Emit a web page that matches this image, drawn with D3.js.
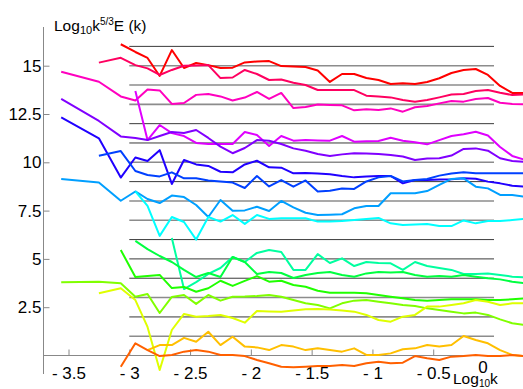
<!DOCTYPE html>
<html>
<head>
<meta charset="utf-8">
<script src="https://cdn.jsdelivr.net/npm/d3@7/dist/d3.min.js"></script>
<style>
  body { margin: 0; background: #fff; }
  text { font-family: "Liberation Sans", Arial, sans-serif; fill: #000; }
</style>
</head>
<body>
<svg id="chart" width="523" height="389"></svg>
<script>
// log10 k of the sample points (three coarse bins, then 0.1 steps)
var logK = [-3.56, -3.25, -3.07,
  -2.95, -2.85, -2.75, -2.65, -2.55, -2.45, -2.35, -2.25, -2.15, -2.05,
  -1.95, -1.85, -1.75, -1.65, -1.55, -1.45, -1.35, -1.25, -1.15, -1.05,
  -0.95, -0.85, -0.75, -0.65, -0.55, -0.45, -0.35, -0.25, -0.15, -0.05,
  0.05, 0.15, 0.25];

// compensated spectra, each one shifted by an integer (top to bottom)
var red = [null, null, 16.11, 15.71, 15.40, 14.47, 15.81, 14.88, 15.14, 15.03, 14.88, 14.90, 15.17, 15.22, 15.24, 14.98, 14.96, 14.93, 14.75, 14.16, 14.57, 14.57, 14.36, 14.26, 14.05, 14.09, 14.05, 14.16, 14.35, 14.62, 14.78, 14.83, 14.52, 13.95, 13.59, 13.59];
var rose = [null, 15.16, 15.41, 15.03, 14.86, 14.52, 14.78, 15.00, 15.01, 15.03, 14.36, 14.39, 14.78, 14.57, 14.26, 14.29, 14.12, 14.00, 13.74, 13.74, 13.74, 13.74, 13.45, 13.40, 13.36, 13.22, 13.14, 13.22, 13.36, 13.51, 13.54, 13.69, 13.74, 13.60, 13.48, 13.52];
var magenta = [14.69, 14.17, 13.41, 13.20, 13.77, 13.72, 13.02, 13.07, 13.49, 13.54, 13.41, 13.20, 13.35, 13.64, 13.28, 13.59, 12.81, 12.86, 12.99, 12.97, 12.95, 12.69, 12.74, 12.71, 12.79, 12.62, 12.85, 12.91, 13.05, 13.17, 13.14, 13.28, 13.33, 13.08, 13.02, 13.00];
var violet = [null, null, null, 13.69, 11.15, 11.93, 11.51, 11.36, 11.00, 10.95, 10.95, 10.95, 11.57, 11.41, 10.84, 11.36, 11.12, 11.15, 11.13, 11.12, 11.36, 11.07, 11.09, 11.10, 11.27, 11.12, 11.04, 10.93, 11.15, 11.36, 11.45, 11.58, 11.39, 10.79, 10.33, 10.14];
var purple = [13.28, 12.14, 11.34, 11.26, 11.15, 11.36, 11.57, 11.52, 11.67, 11.26, 10.81, 10.47, 10.74, 11.15, 11.12, 10.95, 10.72, 10.60, 10.43, 10.33, 10.41, 10.47, 10.46, 10.43, 10.38, 10.30, 10.12, 10.20, 10.21, 10.35, 10.69, 10.72, 10.60, 10.21, 10.07, 10.03];
var indigo = [12.33, 11.24, 9.21, 10.25, 10.07, 10.63, 8.88, 10.12, 9.89, 9.81, 9.51, 9.48, 9.89, 10.08, 9.74, 9.72, 9.43, 9.45, 9.42, 9.38, 9.29, 9.22, 9.27, 9.29, 9.29, 8.91, 9.08, 9.08, 9.11, 9.12, 9.17, 9.15, 9.00, 8.91, 8.79, 8.74];
var blue = [null, 10.34, 10.58, 9.55, 9.34, 9.27, 9.48, 9.17, 9.17, 9.06, 9.01, 8.95, 8.67, 9.29, 8.75, 9.08, 8.74, 9.06, 8.49, 8.53, 8.64, 8.62, 9.01, 9.22, 9.29, 9.01, 9.08, 9.14, 9.31, 9.42, 9.48, 9.43, 9.43, 9.43, 9.43, 9.43];
var azure = [9.14, 8.96, 8.01, 8.49, 8.10, 7.89, 8.28, 8.20, 7.79, 7.17, 8.05, 7.49, 7.51, 7.70, 7.48, 8.00, 7.67, 7.39, 7.27, 7.29, 7.31, 7.62, 7.74, 7.74, 8.40, 8.40, 8.40, 8.51, 8.83, 9.14, 9.17, 8.74, 8.65, 8.31, 8.31, 8.22];
var cyan = [null, null, null, 8.49, 7.74, 6.19, 7.17, 6.91, 6.00, 7.17, 6.93, 7.27, 6.81, 7.27, 7.07, 7.10, 7.10, 7.10, 6.93, 6.93, 6.96, 7.01, 7.07, 7.12, 6.84, 6.75, 6.78, 6.81, 6.70, 6.70, 6.99, 6.84, 6.96, 6.96, 7.01, 7.07];
var teal = [null, null, null, null, null, null, 6.08, 3.44, 3.80, 4.22, 4.53, 5.10, 4.84, 5.31, 5.46, 5.36, 4.43, 4.43, 5.25, 4.79, 5.03, 4.63, 4.84, 4.79, 4.77, 4.43, 4.84, 4.63, 4.53, 4.43, 4.22, 4.22, 4.25, 4.17, 4.08, 4.05];
var green = [null, null, null, 5.93, 5.51, 5.15, 4.84, 4.43, 4.06, 4.27, 4.06, 5.10, 4.84, 4.22, 4.32, 4.27, 4.01, 4.17, 4.27, 4.32, 4.17, 4.08, 4.25, 4.32, 4.29, 4.32, 4.17, 4.08, 4.11, 4.08, 4.17, 4.08, 4.00, 3.94, 3.82, 3.74];
var grass = [null, null, 5.46, 4.06, 4.11, 4.17, 3.49, 3.55, 3.30, 3.48, 3.87, 3.60, 3.86, 4.11, 3.82, 3.87, 3.65, 3.56, 3.35, 3.25, 3.25, 3.25, 3.22, 3.13, 3.04, 2.96, 2.87, 2.84, 2.87, 2.91, 2.91, 2.91, 2.87, 2.87, 2.91, 2.96];
var lime = [3.79, 3.82, 3.74, 3.04, 3.18, 2.20, 3.03, 3.13, 2.67, 3.13, 2.84, 3.04, 3.05, 3.08, 3.13, 3.04, 2.87, 2.70, 2.61, 2.44, 2.70, 2.84, 2.87, 2.78, 2.70, 2.61, 2.56, 2.44, 2.36, 2.27, 2.18, 2.22, 2.10, 1.87, 1.67, 1.58];
var yellow = [null, 3.22, 3.48, 2.87, 1.48, -0.75, 1.32, 2.15, 2.01, 2.04, 2.10, 1.94, 1.70, 2.30, 2.28, 2.27, 2.33, 2.39, 2.41, 2.38, 2.33, 2.27, 2.10, 1.84, 1.75, 2.01, 2.10, 2.53, 2.53, 2.61, 2.70, 2.87, 2.78, 2.61, 2.70, 2.70];
var amber = [null, null, null, null, 0.28, 0.54, 0.54, 0.91, 0.71, 1.23, 0.54, 0.97, 0.46, 0.42, 0.28, 0.54, 0.46, 0.28, 0.37, 0.28, 0.20, 0.37, 0.03, 0.03, 0.11, 0.32, 0.37, 0.54, 0.46, 0.54, 1.01, 0.80, 0.63, 0.28, 0.03, -0.03];
var orange = [null, null, -0.58, 0.63, 0.28, -0.03, 0.03, 0.20, 0.28, 0.20, 0.03, 0.03, -0.03, -0.23, -0.40, -0.58, -0.61, -0.58, -0.54, -0.54, -0.49, -0.54, -0.40, -0.32, -0.40, -0.37, -0.03, -0.14, -0.23, -0.06, -0.03, 0.03, -0.03, -0.03, 0.03, -0.03];

var curves = [red, rose, magenta, violet, purple, indigo, blue, azure, cyan, teal, green, grass, lime, yellow, amber, orange];

// horizontal reference levels, drawn from log k = -3 to 0
var refLevels = [16, 15, 14, 13, 12, 11, 10, 9, 8, 7, 6, 5, 4, 3, 2, 1];
var refFrom = -3, refTo = 0;

var xTicks = [-3.5, -3, -2.5, -2, -1.5, -1, -0.5];
var yTicks = [2.5, 5, 7.5, 10, 12.5, 15];

var svg = d3.select("#chart");

var x = d3.scaleLinear().domain([-3.5, 0]).range([68.5, 494]);
var y = d3.scaleLinear().domain([0, 15]).range([355.5, 65.7]);

// the lighter reference lines
var lightLevels = [15, 14, 13, 10, 8, 7, 3, 2, 1];

svg.append("g").selectAll("line")
  .data(refLevels)
  .enter().append("line")
  .attr("x1", x(refFrom))
  .attr("x2", x(refTo))
  .attr("y1", function(d) { return y(d); })
  .attr("y2", function(d) { return y(d); })
  .attr("stroke", function(d) { return lightLevels.indexOf(d) >= 0 ? "#8c8c8c" : "#3a3a3a"; })
  .attr("stroke-width", function(d) { return lightLevels.indexOf(d) >= 0 ? 1.6 : 1; });

// axes, Mathematica style: ticks point into the plot
var minorX = d3.range(-36, 3).map(function(i) { return i / 10; });
var minorY = d3.range(-1, 35).map(function(i) { return i / 2; });

var gx = svg.append("g").attr("transform", "translate(0," + y(0) + ")");
gx.call(d3.axisBottom(x).tickValues(minorX).tickSizeInner(-3).tickSizeOuter(0).tickFormat(""));
gx.call(d3.axisBottom(x).tickValues(xTicks).tickSizeInner(-6).tickSizeOuter(0).tickPadding(11)
  .tickFormat(function(d) { return "- " + Math.abs(d); }));
gx.selectAll(".domain").remove();
gx.selectAll("line").attr("stroke", "#888");
gx.selectAll("text").attr("font-size", 17).attr("font-family", "Liberation Sans, Arial, sans-serif");

var gy = svg.append("g").attr("transform", "translate(43.5,0)");
gy.call(d3.axisLeft(y).tickValues(minorY).tickSizeInner(-3).tickSizeOuter(0).tickFormat(""));
gy.call(d3.axisLeft(y).tickValues(yTicks).tickSizeInner(-6).tickSizeOuter(0).tickPadding(2)
  .tickFormat(function(d) { return String(d); }));
gy.selectAll(".domain").remove();
gy.selectAll("line").attr("stroke", "#888");
gy.selectAll("text").attr("font-size", 17).attr("font-family", "Liberation Sans, Arial, sans-serif");

svg.append("line").attr("x1", 43.5).attr("x2", 523).attr("y1", y(0)).attr("y2", y(0))
  .attr("stroke", "#888");
svg.append("line").attr("x1", 43.5).attr("x2", 43.5).attr("y1", 27).attr("y2", 374)
  .attr("stroke", "#888");

// origin label sits left of the tick
svg.append("text").attr("x", x(0) - 11).attr("y", 373).attr("font-size", 17)
  .attr("text-anchor", "middle").text("0");

// spectra
var line = d3.line()
  .defined(function(d) { return d[1] !== null; })
  .x(function(d) { return x(d[0]); })
  .y(function(d) { return y(d[1]); });

svg.append("g").selectAll("path")
  .data(curves)
  .enter().append("path")
  .attr("fill", "none")
  .attr("stroke-width", 2)
  .attr("stroke-linejoin", "round")
  .attr("stroke", function(d, i) { return d3.hsl(360 - i * 22.5, 1, 0.5); })
  .attr("d", function(d) { return line(d.map(function(v, j) { return [logK[j], v]; })); });

// axis titles
var t = svg.append("text").attr("x", 54).attr("y", 30.5).attr("font-size", 15.5);
t.append("tspan").text("Log");
t.append("tspan").attr("font-size", 11).attr("dy", 3).text("10");
t.append("tspan").attr("dy", -3).text("k");
t.append("tspan").attr("font-size", 10).attr("dy", -6).text("5/3");
t.append("tspan").attr("dy", 6).text("E (k)");

var tx = svg.append("text").attr("x", 453).attr("y", 384).attr("font-size", 15.5);
tx.append("tspan").text("Log");
tx.append("tspan").attr("font-size", 10).attr("dy", 2.5).text("10");
tx.append("tspan").attr("dy", -2.5).text("k");
</script>
</body>
</html>
